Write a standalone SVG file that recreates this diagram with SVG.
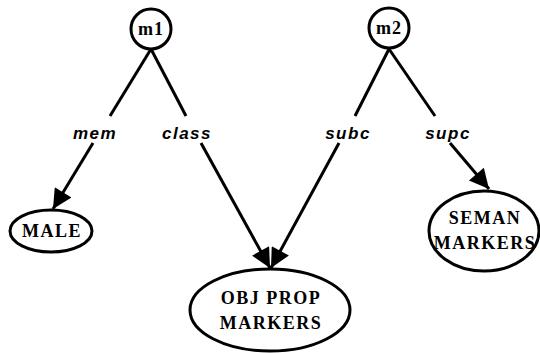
<svg xmlns="http://www.w3.org/2000/svg" width="540" height="353" viewBox="0 0 540 353">
<defs>
<style>
.n{fill:#fff;stroke:#000;stroke-width:3}
.e{fill:none;stroke:#000;stroke-width:3}
.t{font-family:"Liberation Serif",serif;font-size:18px;font-weight:bold;fill:#000;text-anchor:middle;letter-spacing:1.5px}
.l{font-family:"Liberation Sans",sans-serif;font-size:17px;font-style:italic;font-weight:bold;fill:#000;text-anchor:middle;letter-spacing:1.5px}
</style>
<marker id="a" viewBox="0 0 10 10" refX="10" refY="5" markerWidth="7.5" markerHeight="6.5" markerUnits="strokeWidth" orient="auto">
<path d="M0,0 L10,5 L0,10 z" fill="#000"/>
</marker>
</defs>
<g id="connectors">
<line class="e" x1="151" y1="49" x2="110" y2="116"/>
<line class="e" x1="151" y1="49" x2="186" y2="116"/>
<line class="e" x1="389" y1="49" x2="355" y2="116"/>
<line class="e" x1="389" y1="49" x2="435" y2="116"/>
<line class="e" x1="93" y1="143" x2="53" y2="209" marker-end="url(#a)"/>
<line class="e" x1="201" y1="143" x2="270" y2="268" marker-end="url(#a)"/>
<line class="e" x1="339" y1="143" x2="271" y2="268" marker-end="url(#a)"/>
<line class="e" x1="450" y1="143" x2="489" y2="189" marker-end="url(#a)"/>
<text class="l" x="95" y="139">mem</text>
<text class="l" x="187" y="139">class</text>
<text class="l" x="348" y="139">subc</text>
<text class="l" x="448" y="139">supc</text>
</g>
<g id="m1">
<circle class="n" cx="151" cy="29" r="20"/>
<text class="t" x="151" y="35" style="letter-spacing:1px">m1</text>
</g>
<g id="m2">
<circle class="n" cx="389" cy="28" r="20"/>
<text class="t" x="389" y="34" style="letter-spacing:1px">m2</text>
</g>
<g id="male">
<ellipse class="n" cx="51" cy="231" rx="41" ry="21"/>
<text class="t" x="52" y="237">MALE</text>
</g>
<g id="objprop">
<ellipse class="n" cx="270" cy="310" rx="80" ry="41"/>
<text class="t" x="271" y="304">OBJ PROP</text>
<text class="t" x="271" y="329">MARKERS</text>
</g>
<g id="seman">
<ellipse class="n" cx="484" cy="231" rx="55" ry="40"/>
<text class="t" x="485" y="224">SEMAN</text>
<text class="t" x="485" y="249">MARKERS</text>
</g>
</svg>
